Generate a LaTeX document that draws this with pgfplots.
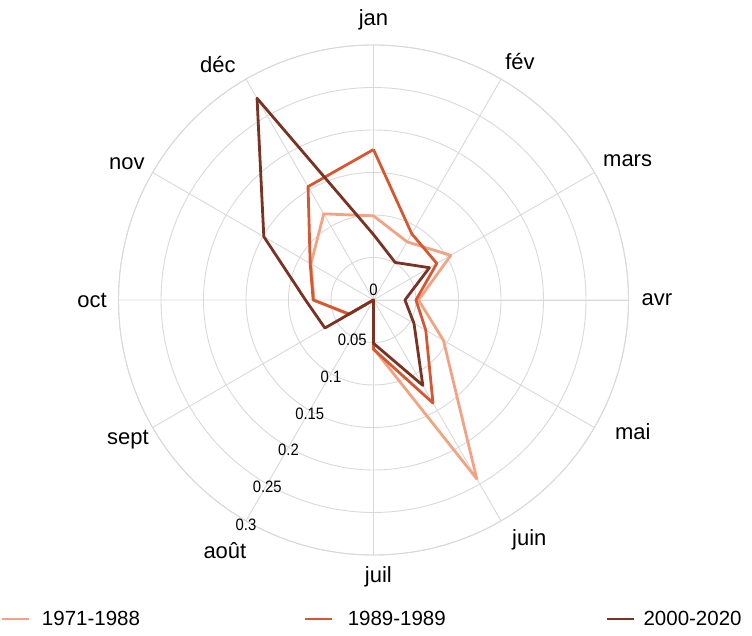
\documentclass[border=0pt]{standalone}
\usepackage{fontspec}
\setmainfont{Liberation Sans}
\newfontfamily\monthfont{Liberation Sans}
\newfontfamily\radfont[FakeStretch=0.9]{Liberation Sans}
\newfontfamily\legfont{Liberation Sans}
\usepackage{pgfplots}
\pgfplotsset{compat=1.18}
\usepgfplotslibrary{polar}
\definecolor{clight}{HTML}{F1A383}
\definecolor{cmed}{HTML}{D65832}
\definecolor{cdark}{HTML}{7A3222}
\definecolor{gridgray}{HTML}{D9D9D9}
\begin{document}
\begin{tikzpicture}
\useasboundingbox (0,0) rectangle (752pt,636pt);
\begin{polaraxis}[
  at={(373.5pt,336pt)}, anchor=center,
  scale only axis, width=510pt, height=510pt,
  xmin=0, xmax=360, ymin=0, ymax=0.3,
  xtick={0,30,60,90,120,150,180,210,240,270,300,330},
  xticklabels={},
  ytick={0.05,0.1,0.15,0.2,0.25,0.3},
  yticklabels={},
  grid=major,
  major grid style={draw=gridgray, line width=0.9pt},
  axis line style={draw=gridgray, line width=0.9pt},
  major tick length=0pt,
  clip=false,
  legend columns=3,
  legend style={at={(axis description cs:-0.2324,-0.1255)}, anchor=west,
    draw=none, fill=none, inner sep=0pt, font=\legfont\fontsize{20.5}{23}\selectfont,
    /tikz/every even column/.append style={column sep=0pt}},
  legend cell align=left,
  legend image code/.code={\draw[#1, line width=2.8pt] (0pt,0pt) -- (27pt,0pt);},
  every axis plot/.append style={line width=2.8pt, line join=round, mark=none},
]
% order: jan fev mars avr mai juin juil aout sept oct nov dec jan
\addplot[clight] coordinates {(90,0.099) (60,0.079) (30,0.105) (0,0.053) (330,0.095) (300,0.243) (270,0.057) (240,0) (210,0.034) (180,0.070) (150,0.085) (120,0.117) (90,0.099)};
\addlegendentry{\makebox[270pt][l]{\hspace{10pt}1971-1988}}
\addplot[cmed] coordinates {(90,0.177) (60,0.090) (30,0.086) (0,0.050) (330,0.071) (300,0.140) (270,0.058) (240,0) (210,0.033) (180,0.071) (150,0.086) (120,0.154) (90,0.177)};
\addlegendentry{\makebox[268pt][l]{\hspace{12pt}1989-1989}}
\addplot[cdark] coordinates {(90,0.077) (60,0.051) (30,0.076) (0,0.037) (330,0.055) (300,0.116) (270,0.051) (240,0) (210,0.066) (180,0.080) (150,0.149) (120,0.274) (90,0.077)};
\addlegendentry{\hspace{6pt}2000-2020}
% month labels
\begin{scope}[every node/.style={font=\monthfont\fontsize{22}{26}\selectfont, anchor=center, inner sep=0pt}]
\node at (axis cs:90,0.3294) {jan};
\node at (axis cs:58.4,0.3288) {fév};
\node at (axis cs:28.8,0.3412) {mars};
\node at (axis cs:0,0.3335) {avr};
\node at (axis cs:333,0.3424) {mai};
\node at (axis cs:303,0.3365) {juin};
\node at (axis cs:271,0.3259) {juil};
\node at (axis cs:239.3,0.3424) {août};
\node at (axis cs:209.7,0.3325) {sept};
\node at (axis cs:180,0.3312) {oct};
\node at (axis cs:151,0.3318) {nov};
\node at (axis cs:123.5,0.3318) {déc};
\end{scope}
% radial labels
\begin{scope}[every node/.style={font=\radfont\fontsize{16.5}{19}\selectfont, anchor=center, inner sep=0pt}]
\node[yshift=10pt] at (axis cs:0,0) {0};
\node[yshift=-3pt] at (axis cs:240,0.05) {0.05};
\node[yshift=-3pt] at (axis cs:240,0.1) {0.1};
\node[yshift=-3pt] at (axis cs:240,0.15) {0.15};
\node[yshift=-3pt] at (axis cs:240,0.2) {0.2};
\node[yshift=-3pt] at (axis cs:240,0.25) {0.25};
\node[yshift=-4pt] at (axis cs:240,0.3) {0.3};
\end{scope}
\end{polaraxis}
\end{tikzpicture}
\end{document}
